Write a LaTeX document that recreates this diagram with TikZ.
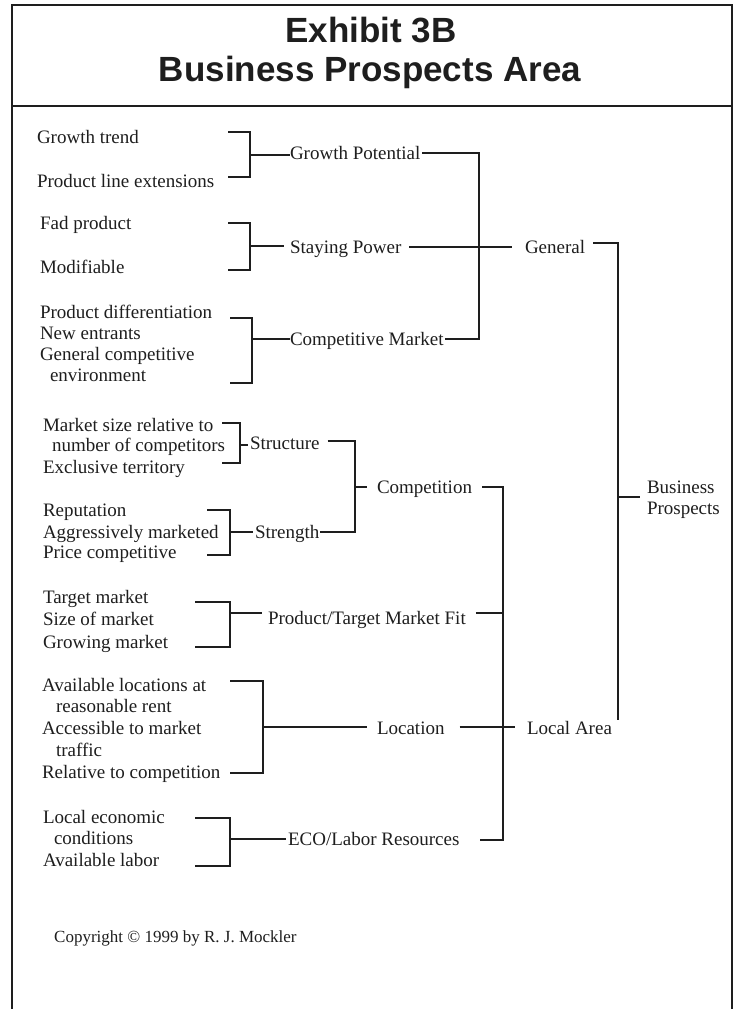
\documentclass[tikz,border=0pt]{standalone}
\usepackage{fontspec}
\setmainfont{Liberation Serif}
\newfontfamily\titlefont{Liberation Sans}
\begin{document}
\begin{tikzpicture}[x=1pt,y=-1pt,
  txt/.style={anchor=base west,inner sep=0pt,outer sep=0pt,text=ink,font=\fontsize{19}{21}\selectfont},
  ttl/.style={anchor=base,inner sep=0pt,text=ink,font=\titlefont\bfseries\fontsize{35}{40}\selectfont},
  conn/.style={draw=ink,line width=1.4pt},
  frame/.style={draw=ink,line width=2.2pt}]
\definecolor{ink}{RGB}{30,30,30}
\useasboundingbox (0,0) rectangle (742,1009);
\fill[white] (0,0) rectangle (742,1009);
% frame
\draw[frame] (12,1009) -- (12,5) -- (732,5) -- (732,1009);
\draw[frame] (12,106) -- (732,106);
% title
\node[ttl] (t1) at (371,42) {Exhibit 3B};
\node[ttl] (t2) at (370,81) {Business Prospects Area};
% leaves
\node[txt] (gt)   at (37,143) {Growth trend};
\node[txt] (ple)  at (37,187) {Product line extensions};
\node[txt] (fad)  at (40,229) {Fad product};
\node[txt] (mod)  at (40,273) {Modifiable};
\node[txt] (pd)   at (40,318) {Product differentiation};
\node[txt] (ne)   at (40,339) {New entrants};
\node[txt] (gc)   at (40,360) {General competitive};
\node[txt] (env)  at (50,381) {environment};
\node[txt] (ms1)  at (43,431) {Market size relative to};
\node[txt] (ms2)  at (52,451) {number of competitors};
\node[txt] (ext)  at (43,473) {Exclusive territory};
\node[txt] (rep)  at (43,516) {Reputation};
\node[txt] (agg)  at (43,538) {Aggressively marketed};
\node[txt] (pc)   at (43,558) {Price competitive};
\node[txt] (tm)   at (43,603) {Target market};
\node[txt] (som)  at (43,625) {Size of market};
\node[txt] (gm)   at (43,648) {Growing market};
\node[txt] (al1)  at (42,691) {Available locations at};
\node[txt] (al2)  at (56,712) {reasonable rent};
\node[txt] (acc1) at (42,734) {Accessible to market};
\node[txt] (acc2) at (56,756) {traffic};
\node[txt] (rel)  at (42,778) {Relative to competition};
\node[txt] (lec1) at (43,823) {Local economic};
\node[txt] (lec2) at (54,844) {conditions};
\node[txt] (avl)  at (43,866) {Available labor};
% intermediate
\node[txt] (gp)   at (290,159) {Growth Potential};
\node[txt] (spw)  at (290,253) {Staying Power};
\node[txt] (cm)   at (290,345) {Competitive Market};
\node[txt] (str)  at (250,449) {Structure};
\node[txt] (stg)  at (255,538) {Strength};
\node[txt] (ptm)  at (268,624) {Product/Target Market Fit};
\node[txt] (loc)  at (377,734) {Location};
\node[txt] (eco)  at (288,845) {ECO/Labor Resources};
\node[txt] (gen)  at (525,253) {General};
\node[txt] (comp) at (377,493) {Competition};
\node[txt] (la)   at (527,734) {Local Area};
\node[txt] (bp1)  at (647,493) {Business};
\node[txt] (bp2)  at (647,514) {Prospects};
% copyright
\node[anchor=base west,inner sep=0pt,text=ink,font=\fontsize{17}{20}\selectfont] (copy) at (54,942) {Copyright \textcopyright{} 1999 by R. J. Mockler};
% brackets level 1
\draw[conn] (228,132) -| (250,177) -- (228,177);
\draw[conn] (250,155) -- (gp.west |- 0,155);
\draw[conn] (228,223) -| (250,270) -- (228,270);
\draw[conn] (250,246) -- ([xshift=-6pt]spw.west |- 0,246);
\draw[conn] (230,318) -| (252,383) -- (230,383);
\draw[conn] (252,339) -- (cm.west |- 0,339);
\draw[conn] (222,423) -| (240,463) -- (222,463);
\draw[conn] (240,445) -- ([xshift=-2pt]str.west |- 0,445);
\draw[conn] (207,510) -| (230,555) -- (207,555);
\draw[conn] (230,532) -- ([xshift=-2pt]stg.west |- 0,532);
\draw[conn] (195,602) -| (230,647) -- (195,647);
\draw[conn] (230,613) -- ([xshift=-6pt]ptm.west |- 0,613);
\draw[conn] (230,681) -| (263,773) -- (230,773);
\draw[conn] (263,727) -- ([xshift=-10pt]loc.west |- 0,727);
\draw[conn] (195,818) -| (230,866) -- (195,866);
\draw[conn] (230,839) -- ([xshift=-2pt]eco.west |- 0,839);
% level 2
\draw[conn] ([xshift=2pt]gp.east |- 0,153) -| (479,339) -- ([xshift=1pt]cm.east |- 0,339);
\draw[conn] ([xshift=8pt]spw.east |- 0,247) -- ([xshift=-13pt]gen.west |- 0,247);
\draw[conn] ([xshift=8pt]str.east |- 0,441) -| (355,532) -- ([xshift=1pt]stg.east |- 0,532);
\draw[conn] (355,487) -- ([xshift=-10pt]comp.west |- 0,487);
\draw[conn] ([xshift=10pt]comp.east |- 0,487) -| (503,840) -- (480,840);
\draw[conn] ([xshift=10pt]ptm.east |- 0,613) -- (503,613);
\draw[conn] ([xshift=15pt]loc.east |- 0,727) -- ([xshift=-12pt]la.west |- 0,727);
% level 3
\draw[conn] ([xshift=8pt]gen.east |- 0,243) -| (618,720);
\draw[conn] (618,497) -- ([xshift=-7pt]bp1.west |- 0,497);
\end{tikzpicture}
\end{document}
